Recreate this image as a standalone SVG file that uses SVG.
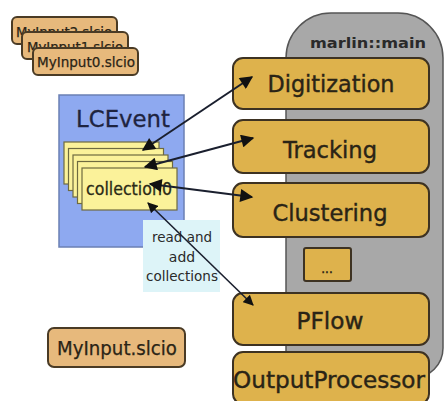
<svg xmlns="http://www.w3.org/2000/svg" width="446" height="401" viewBox="0 0 446 401">
  <style>
    .proc rect { fill: #DEB24C; stroke: #3d3222; stroke-width: 2; }
    .proc text { font-family: "DejaVu Sans", Verdana, sans-serif; fill: #2a2416; stroke: #2a2416; stroke-width: 0.4; text-anchor: middle; }
    .file rect { fill: #E7B97C; stroke: #4a3b25; stroke-width: 2; }
    .file text { font-family: "DejaVu Sans", Verdana, sans-serif; fill: #2a2416; stroke: #2a2416; stroke-width: 0.25; text-anchor: middle; }
    .coll rect { fill: #FBF29A; stroke: #6e6a40; stroke-width: 1.2; }
    .conn line { stroke: #1a1f2e; stroke-width: 2; marker-start: url(#head); marker-end: url(#head); }
    .lbl { font-family: "DejaVu Sans", Verdana, sans-serif; fill: #2a2a2a; text-anchor: middle; }
  </style>
  <defs>
    <marker id="head" viewBox="0 0 10 10" refX="9" refY="5" markerWidth="7" markerHeight="6.5" orient="auto-start-reverse" markerUnits="strokeWidth">
      <path d="M0,0 L10,5 L0,10 z" fill="#111"/>
    </marker>
  </defs>

  <rect width="446" height="401" fill="#ffffff"/>

  <!-- marlin::main panel -->
  <g id="marlin-main">
    <path d="M286,378 L286,58 A45,45 0 0 1 331,13 L398,13 A45,45 0 0 1 443,58 L443,348 A30,30 0 0 1 413,378 Z" fill="#A8A8A8" stroke="#555555" stroke-width="1.5"/>
    <text x="368" y="48" font-family="DejaVu Sans, Verdana, sans-serif" font-weight="bold" font-size="14" fill="#2a2a2a" text-anchor="middle" textLength="116" lengthAdjust="spacingAndGlyphs">marlin::main</text>
  </g>

  <g id="digitization" class="proc">
    <rect x="233" y="58" width="196" height="51" rx="10"/>
    <text x="331" y="92" font-size="23" textLength="127" lengthAdjust="spacingAndGlyphs">Digitization</text>
  </g>
  <g id="tracking" class="proc">
    <rect x="233" y="120" width="196" height="53" rx="10"/>
    <text x="330" y="158" font-size="23" textLength="94" lengthAdjust="spacingAndGlyphs">Tracking</text>
  </g>
  <g id="clustering" class="proc">
    <rect x="233" y="183" width="196" height="54" rx="10"/>
    <text x="330" y="221" font-size="23" textLength="115" lengthAdjust="spacingAndGlyphs">Clustering</text>
  </g>
  <g id="more" class="proc">
    <rect x="304" y="248" width="47" height="33" rx="2" stroke-width="1.5"/>
    <text x="327" y="273" font-size="12" stroke-width="0">...</text>
  </g>
  <g id="pflow" class="proc">
    <rect x="233" y="293" width="196" height="52" rx="10"/>
    <text x="330" y="329" font-size="23" textLength="67" lengthAdjust="spacingAndGlyphs">PFlow</text>
  </g>
  <g id="outputprocessor" class="proc">
    <rect x="233" y="352" width="196" height="52" rx="10"/>
    <text x="329" y="388" font-size="23" textLength="192" lengthAdjust="spacingAndGlyphs">OutputProcessor</text>
  </g>

  <!-- input files -->
  <g id="myinput2" class="file">
    <rect x="12" y="17" width="105" height="27" rx="5"/>
    <text x="64" y="37" font-size="14" textLength="96" lengthAdjust="spacingAndGlyphs">MyInput2.slcio</text>
  </g>
  <g id="myinput1" class="file">
    <rect x="22" y="32" width="106" height="27" rx="5"/>
    <text x="75" y="52" font-size="14" textLength="96" lengthAdjust="spacingAndGlyphs">MyInput1.slcio</text>
  </g>
  <g id="myinput0" class="file">
    <rect x="33" y="48" width="105" height="27" rx="5"/>
    <text x="86" y="67" font-size="14" textLength="98" lengthAdjust="spacingAndGlyphs">MyInput0.slcio</text>
  </g>
  <g id="myinput" class="file">
    <rect x="48" y="328" width="137" height="39" rx="6"/>
    <text x="117" y="355" font-size="19" textLength="120" lengthAdjust="spacingAndGlyphs">MyInput.slcio</text>
  </g>

  <!-- event with its collections -->
  <g id="lcevent">
    <rect x="59" y="95" width="125" height="152" fill="#8EA9F0" stroke="#6b80b4" stroke-width="1.5"/>
    <text x="123" y="127" font-family="DejaVu Sans, Verdana, sans-serif" font-size="23" fill="#1e2440" stroke="#1e2440" stroke-width="0.3" text-anchor="middle" textLength="94" lengthAdjust="spacingAndGlyphs">LCEvent</text>
  </g>
  <g id="collections" class="coll">
    <rect x="64" y="142" width="95" height="42"/>
    <rect x="68.5" y="148.5" width="95" height="42"/>
    <rect x="73" y="155" width="95" height="42"/>
    <rect x="77.5" y="161.5" width="95" height="42"/>
    <rect x="82" y="168" width="95" height="42"/>
    <text x="129" y="195" font-family="DejaVu Sans, Verdana, sans-serif" font-size="17" fill="#2a2a16" stroke="#2a2a16" stroke-width="0.3" text-anchor="middle" textLength="86" lengthAdjust="spacingAndGlyphs">collection0</text>
  </g>

  <g id="note">
    <rect x="143" y="220" width="77" height="72" fill="#DDF4F8"/>
    <text class="lbl" x="182" y="242" font-size="14" textLength="60" lengthAdjust="spacingAndGlyphs">read and</text>
    <text class="lbl" x="182" y="262" font-size="14">add</text>
    <text class="lbl" x="182" y="281" font-size="14" textLength="72" lengthAdjust="spacingAndGlyphs">collections</text>
  </g>

  <!-- connectors -->
  <g id="connectors" class="conn">
    <line x1="143" y1="150" x2="252" y2="77"/>
    <line x1="145" y1="167" x2="253" y2="138"/>
    <line x1="150" y1="184" x2="252" y2="197"/>
    <line x1="148" y1="203" x2="253" y2="305" style="stroke-width:1.6"/>
  </g>
</svg>
